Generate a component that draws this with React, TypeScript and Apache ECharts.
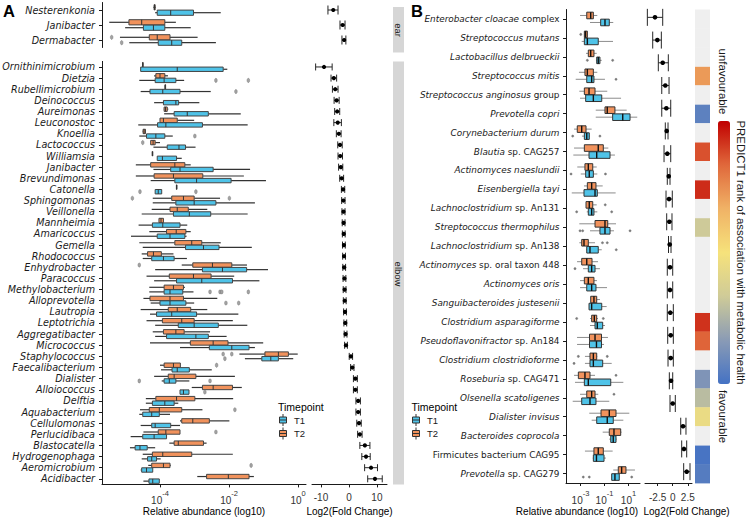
import React, { useEffect, useRef } from 'react';
import * as echarts from 'echarts';

// ---------------- Panel A data ----------------
const earTaxa = ['Nesterenkonia', 'Janibacter', 'Dermabacter'];
const elbowTaxa = [
  'Ornithinimicrobium', 'Dietzia', 'Rubellimicrobium', 'Deinococcus', 'Aureimonas', 'Leuconostoc',
  'Knoellia', 'Lactococcus', 'Williamsia', 'Janibacter', 'Brevundimonas', 'Catonella', 'Sphingomonas',
  'Veillonella', 'Mannheimia', 'Amaricoccus', 'Gemella', 'Rhodococcus', 'Enhydrobacter', 'Paracoccus',
  'Methylobacterium', 'Alloprevotella', 'Lautropia', 'Leptotrichia', 'Aggregatibacter', 'Micrococcus',
  'Staphylococcus', 'Faecalibacterium', 'Dialister', 'Alloiococcus', 'Delftia', 'Aquabacterium',
  'Cellulomonas', 'Perlucidibaca', 'Blastocatella', 'Hydrogenophaga', 'Aeromicrobium', 'Acidibacter',
];
// boxplot stats: [min, q1, median, q3, max] of log10(relative abundance)
const earT1 = [
  [-4.14, -4.08, -3.69, -3.03, -2.24],
  [-5.01, -4.48, -4.19, -3.86, -3.11],
  [-4.89, -4.05, -3.66, -3.37, -2.38],
];
const earT2 = [
  [-4.19, -4.17, -4.16, -4.14, -4.12],
  [-5.47, -4.9, -4.53, -3.86, -3.54],
  [-5.16, -4.31, -4.08, -3.71, -2.91],
];
const earOutT1 = [[2, -5.11]];
const earOutT2 = [[2, -5.4]];
const elbowT1 = [
  [-4.56, -4.56, -3.5, -2.17, -2.05], [-4.6, -4.14, -3.88, -3.54, -3.3], [-4.56, -4.29, -3.92, -3.42, -2.53],
  [-4.17, -3.9, -3.54, -3.46, -2.86], [-3.88, -3.59, -3.21, -2.6, -1.66], [-4.63, -4.07, -3.83, -2.77, -1.46],
  [-4.6, -4.39, -4.12, -3.86, -3.63], [-4.19, -3.79, -3.45, -3.26, -2.97], [-4.08, -4.08, -3.93, -3.52, -3.37],
  [-4.19, -3.69, -3.42, -2.46, -1.39], [-4.27, -3.57, -2.94, -1.94, -0.93], [-4.14, -4.14, -4.05, -3.95, -3.95],
  [-4.21, -3.54, -3.01, -2.38, -1.25], [-4.53, -3.61, -3.15, -2.53, -1.46], [-4.62, -4.22, -3.92, -3.42, -3.21],
  [-4.84, -4.08, -3.71, -3.28, -3.23], [-4.5, -3.26, -2.74, -2.29, -1.34], [-4.5, -4.24, -3.9, -3.59, -3.22],
  [-4.14, -2.77, -2.19, -1.49, -0.87], [-4.17, -3.52, -2.79, -1.9, -1.12], [-4.31, -3.88, -3.71, -3.34, -3.03],
  [-4.27, -4.0, -3.71, -3.25, -3.01], [-4.29, -4.1, -3.66, -2.94, -1.73], [-4.14, -3.47, -3.01, -2.31, -1.47],
  [-4.14, -3.81, -2.96, -2.6, -2.07], [-3.42, -2.57, -1.92, -1.42, -1.25], [-1.54, -1.05, -0.79, -0.57, -0.14],
  [-3.97, -3.65, -3.5, -3.15, -2.5], [-3.95, -3.88, -3.73, -3.54, -3.15], [-3.42, -3.42, -3.32, -3.16, -3.16],
  [-4.41, -4.22, -3.86, -3.59, -3.47], [-4.6, -4.5, -4.24, -4.02, -3.71], [-4.56, -4.24, -4.14, -3.69, -3.42],
  [-4.85, -4.5, -4.17, -3.81, -3.81], [-4.87, -4.72, -4.58, -4.37, -4.14], [-4.53, -4.36, -4.24, -4.1, -3.98],
  [-4.56, -4.53, -4.39, -4.21, -4.21], [-4.48, -4.32, -4.21, -4.02, -4.02],
];
const elbowT2 = [
  [-4.51, -4.505, -4.5, -4.495, -4.49], [-4.17, -4.12, -4.0, -3.86, -3.77], [-3.86, -3.855, -3.85, -3.845, -3.84],
  null, [-3.89, -3.88, -3.84, -3.79, -3.76], [-4.0, -4.0, -3.9, -3.5, -3.01],
  [-4.5, -4.49, -4.46, -4.42, -4.41], [-4.27, -4.27, -4.2, -4.14, -4.0], [-4.23, -4.225, -4.22, -4.215, -4.21],
  [-4.7, -4.27, -3.57, -3.28, -3.11], [-4.7, -4.17, -3.61, -2.76, -1.57], [-3.53, -3.525, -3.52, -3.515, -3.51],
  [-4.21, -3.66, -3.32, -3.01, -2.26], [-4.24, -3.71, -3.5, -3.18, -2.63], [-4.03, -4.03, -3.97, -3.9, -3.9],
  [-4.31, -3.81, -3.53, -3.25, -3.11], [-4.6, -3.57, -3.08, -2.79, -2.24], [-4.53, -4.36, -4.19, -3.96, -3.61],
  [-3.37, -3.05, -2.48, -1.92, -1.48], [-4.39, -3.73, -3.03, -2.52, -1.85], [-4.31, -3.88, -3.61, -3.32, -3.28],
  [-4.48, -4.29, -3.71, -3.32, -2.34], [-4.56, -3.76, -3.5, -3.11, -2.63], [-4.39, -3.93, -3.37, -3.01, -1.89],
  [-4.21, -3.9, -3.54, -3.3, -2.55], [-4.29, -3.12, -2.46, -2.03, -1.01], [-1.7, -0.96, -0.57, -0.28, -0.01],
  [-4.0, -3.88, -3.61, -3.41, -3.4], [-4.17, -3.76, -3.59, -2.96, -1.83], [-3.08, -2.77, -2.46, -1.9, -1.63],
  [-4.41, -4.12, -3.52, -2.99, -1.88], [-4.58, -4.31, -4.02, -3.37, -2.77], [-3.42, -3.37, -3.05, -2.57, -1.99],
  [-4.48, -4.05, -3.83, -3.42, -3.42], [-3.73, -3.59, -3.47, -2.74, -2.65], [-4.5, -4.22, -3.92, -3.08, -1.89],
  [-4.34, -4.24, -3.9, -3.71, -3.69], [-2.92, -2.65, -2.02, -1.42, -1.28],
];
const elbowOutT1 = [
  [1, -2.38], [1, -1.44], [2, -1.8], [6, -2.99], [11, -4.58], [11, -2.96], [20, -2.55], [20, -2.26], [20, -2.21],
  [20, -1.44], [21, -2.09], [21, -1.72], [26, -2.12], [28, -4.6], [28, -2.55], [29, -2.7],
];
const elbowOutT2 = [
  [7, -4.5], [12, -4.8], [12, -1.99], [18, -4.6], [26, -2.17], [26, -1.92], [27, -2.36], [31, -1.83], [33, -2.38], [36, -1.36],
];
// log2 fold change: [estimate, lower, upper]
const earFC = [[-5.6, -7.5, -3.9], [-2.25, -3.2, -1.4], [-1.7, -2.5, -1.1]];
const elbowFC = [
  [-8.9, -11.9, -6.0], [-5.4, -6.4, -4.4], [-4.9, -5.9, -3.9], [-4.4, -5.3, -3.5], [-4.2, -5.1, -3.3],
  [-4.0, -5.4, -2.7], [-3.6, -4.5, -2.8], [-3.2, -4.0, -2.4], [-3.1, -3.9, -2.3], [-2.9, -3.7, -2.2],
  [-2.6, -3.3, -1.9], [-2.1, -2.7, -1.5], [-2.0, -2.6, -1.4], [-1.95, -2.5, -1.4], [-1.9, -2.4, -1.4],
  [-1.85, -2.35, -1.35], [-1.8, -2.3, -1.3], [-1.75, -2.25, -1.25], [-1.7, -2.2, -1.2], [-1.6, -2.1, -1.1],
  [-1.55, -2.05, -1.05], [-1.5, -2.0, -1.0], [-1.4, -1.9, -0.9], [-1.3, -1.8, -0.8], [-1.2, -1.7, -0.7],
  [-1.05, -1.55, -0.55], [0.7, 0.1, 1.3], [1.2, 0.6, 1.8], [2.3, 1.6, 3.0], [2.3, 1.6, 3.0],
  [3.3, 2.5, 4.1], [3.3, 2.5, 4.1], [3.6, 2.8, 4.4], [3.9, 3.1, 4.7], [5.7, 3.9, 7.5],
  [6.1, 4.6, 7.6], [7.9, 5.6, 10.2], [9.3, 6.7, 11.9],
];

// ---------------- Panel B data ----------------
const speciesB = [
  'Enterobacter cloacae complex', 'Streptococcus mutans', 'Lactobacillus delbrueckii', 'Streptococcus mitis',
  'Streptococcus anginosus group', 'Prevotella copri', 'Corynebacterium durum', 'Blautia sp. CAG257',
  'Actinomyces naeslundii', 'Eisenbergiella tayi', 'Lachnoclostridium sp. An131', 'Streptococcus thermophilus',
  'Lachnoclostridium sp. An138', 'Actinomyces sp. oral taxon 448', 'Actinomyces oris', 'Sanguibacteroides justesenii',
  'Clostridium asparagiforme', 'Pseudoflavonifractor sp. An184', 'Clostridium clostridioforme', 'Roseburia sp. CAG471',
  'Olsenella scatoligenes', 'Dialister invisus', 'Bacteroides coprocola', 'Firmicutes bacterium CAG95',
  'Prevotella sp. CAG279',
];
const bT1 = [
  [-2.21, -1.32, -0.96, -0.6, -0.27], [-2.9, -2.68, -2.43, -1.52, -0.29], [-1.71, -1.65, -1.52, -1.38, -1.23],
  [-3.4, -2.48, -2.07, -1.88, -0.96], [-3.04, -2.57, -1.93, -1.23, 0.38], [-1.73, -0.32, 0.52, 1.13, 1.73],
  [-2.88, -2.68, -2.48, -2.27, -2.21], [-3.6, -2.29, -1.65, -0.54, -0.13], [-2.98, -2.57, -2.27, -1.93, -1.6],
  [-3.73, -2.71, -1.79, -1.6, -0.07], [-2.48, -2.35, -2.07, -1.88, -1.6], [-2.21, -1.38, -0.96, -0.54, -0.21],
  [-2.54, -2.48, -2.21, -1.52, -1.23], [-2.79, -2.35, -2.07, -1.79, -1.38], [-3.04, -2.48, -2.07, -1.71, -0.79],
  [-2.29, -2.29, -2.07, -1.23, -0.82], [-2.21, -1.79, -1.6, -1.15, -0.96], [-3.29, -2.25, -1.67, -1.25, -1.04],
  [-2.63, -2.21, -1.93, -1.15, -0.4], [-3.46, -2.68, -2.35, -0.48, 0.57], [-3.65, -2.9, -2.21, -1.71, -0.6],
  [-2.07, -1.65, -0.77, -0.27, 0.57], [-0.6, -0.48, -0.27, -0.04, 0.02], [-1.98, -1.93, -1.67, -1.04, -0.88],
  [-0.4, -0.4, -0.13, 0.23, 0.29],
];
const bT2 = [
  [-3.04, -2.48, -2.15, -1.93, -1.6], [-2.68, -2.68, -2.58, -2.43, -2.43], [-2.54, -2.35, -2.15, -1.88, -1.65],
  [-3.13, -2.63, -2.43, -1.93, -1.6], [-3.1, -2.68, -2.29, -1.79, -0.77], [-1.73, -0.96, -0.77, -0.13, 0.85],
  [-3.54, -3.27, -2.9, -2.54, -2.07], [-3.54, -2.68, -1.52, -1.1, -0.68], [-3.27, -2.63, -2.35, -1.98, -1.65],
  [-2.71, -2.43, -2.07, -1.71, -1.15], [-2.54, -2.54, -2.27, -1.98, -1.65], [-3.1, -1.79, -0.96, -0.73, -0.04],
  [-3.1, -2.9, -2.71, -2.35, -1.79], [-3.29, -2.9, -2.48, -2.04, -1.54], [-3.04, -2.68, -2.35, -1.88, -1.63],
  [-2.15, -2.15, -1.88, -1.65, -1.38], [-2.21, -2.07, -1.85, -1.65, -1.54], [-3.29, -2.25, -1.79, -1.25, -0.71],
  [-2.63, -2.21, -1.93, -1.65, -1.6], [-3.54, -3.18, -2.63, -2.21, -1.79], [-3.04, -2.48, -2.07, -1.79, -1.52],
  [-2.27, -1.29, -0.6, -0.04, 1.07], [-1.15, -0.6, -0.21, 0.35, 0.43], [-2.63, -1.88, -1.52, -1.1, -0.32],
  [-0.27, 0.15, 0.43, 0.79, 1.54],
];
const bOutT1 = [
  [2, -2.43], [2, -0.32], [3, -0.04], [6, -3.65], [6, -1.38], [8, -3.79], [8, -0.92], [10, -3.32], [10, -0.4],
  [11, -3.04], [11, -2.82], [11, 1.13], [12, -0.02], [13, -3.46], [18, -3.54], [24, -2.77], [24, -2.27], [24, 1.27],
];
const bOutT2 = [
  [1, -2.98], [10, -0.94], [12, -1.17], [12, -0.77], [16, -3.32], [16, -1.1], [18, -3.18], [18, -0.77], [19, -0.04], [20, -0.21],
];
const fcBTaxa = [
  'Enterobacter cloacae complex', 'Streptococcus mutans', 'Lactobacillus delbrueckii', 'Streptococcus mitis',
  'Streptococcus anginosus group', 'Prevotella copri', 'Blautia sp. CAG257', 'Actinomyces naeslundii',
  'Eisenbergiella tayi', 'Lachnoclostridium sp. An131', 'Streptococcus thermophilus', 'Actinomyces sp. oral taxon 448',
  'Actinomyces oris', 'Sanguibacteroides justesenii', 'Pseudoflavonifractor sp. An184', 'Clostridium clostridioforme',
  'Roseburia sp. CAG471', 'Olsenella scatoligenes', 'Dialister invisus', 'Bacteroides coprocola', 'Prevotella sp. CAG279',
];
const fcB = [
  [-2.94, -4.21, -1.66], [-2.55, -3.32, -1.89], [-1.66, -2.39, -0.73], [-1.23, -1.82, -0.61], [-1.06, -1.82, -0.33],
  [-1.0, -1.23, -0.78], [-0.9, -1.44, -0.33], [-0.66, -0.9, -0.45], [-0.61, -1.11, -0.07], [-0.56, -1.0, -0.12],
  [-0.5, -0.7, -0.28], [-0.45, -0.9, 0.0], [-0.45, -0.9, 0.0], [-0.4, -0.9, 0.1], [-0.33, -0.83, 0.1],
  [-0.33, -0.78, 0.1], [-0.28, -0.56, 0.0], [0.0, -0.45, 0.43], [1.71, 1.33, 2.2], [1.87, 1.49, 2.32], [2.32, 1.82, 2.87],
];
// PREDICT1 rank (0 = favourable, 1 = unfavourable); null = not ranked
const predictRank = [
  null, null, null, 0.72, null, 0.06, null, 0.87, null, 0.93, null, 0.33, null,
  null, null, null, 0.92, 0.84, null, 0.14, 0.28, 0.45, null, 0.01, 0.04,
];
const rankColors = ['#4472C4', '#8A9BB5', '#CFCB98', '#F6E27B', '#F0B266', '#E0683B', '#C00000'];

const aTicks = [-4, -2, 0];
const fcATicks = [-10, 0, 10];
const bTicks = [-3, -1, 1];
const fcBTicks = [-2.5, 0, 2.5];

// ---------------- styles ----------------
const SANS = "'Liberation Sans', Arial, sans-serif";
const DEJAVU = "'DejaVu Sans', sans-serif";
const T1_COLOR = '#4FC3E8';
const T2_COLOR = '#F1925C';
const AXIS_COLOR = '#1a1a1a';

function boxSeries(axis: number, stats: any[], color: string, offset: number, h: number, st: any) {
  const data: any[] = [];
  stats.forEach((s, i) => { if (s) data.push([i, ...s]); });
  return {
    type: 'custom', xAxisIndex: axis, yAxisIndex: axis, data, z: 3,
    encode: { x: [1, 2, 3, 4, 5], y: 0 },
    renderItem: (params: any, api: any) => {
      const c = api.value(0);
      const p = [1, 2, 3, 4, 5].map((d) => api.coord([api.value(d), c]));
      const y = p[0][1] + offset;
      const t = y - h / 2;
      return {
        type: 'group',
        children: [
          { type: 'line', shape: { x1: p[0][0], y1: y, x2: p[1][0], y2: y }, style: { stroke: st.whisker, lineWidth: st.wlw } },
          { type: 'line', shape: { x1: p[3][0], y1: y, x2: p[4][0], y2: y }, style: { stroke: st.whisker, lineWidth: st.wlw } },
          { type: 'rect', shape: { x: p[1][0], y: t, width: Math.max(p[3][0] - p[1][0], 0.6), height: h }, style: { fill: color, stroke: st.border, lineWidth: st.blw } },
          { type: 'line', shape: { x1: p[2][0], y1: t, x2: p[2][0], y2: t + h }, style: { stroke: st.median, lineWidth: st.mlw } },
        ],
      };
    },
  };
}

function outlierSeries(axis: number, pts: number[][], offset: number, st: any) {
  return {
    type: 'custom', xAxisIndex: axis, yAxisIndex: axis, data: pts, z: 4,
    encode: { x: 1, y: 0 },
    renderItem: (params: any, api: any) => {
      const p = api.coord([api.value(1), api.value(0)]);
      return { type: 'ellipse', shape: { cx: p[0], cy: p[1] + offset, rx: st.rx, ry: st.ry }, style: { fill: st.fill, stroke: st.stroke, lineWidth: 0.5 } };
    },
  };
}

function fcSeries(axis: number, rows: number[][], cap: number, r: number) {
  return {
    type: 'custom', xAxisIndex: axis, yAxisIndex: axis, z: 3,
    data: rows.map((v, i) => [i, ...v]),
    encode: { x: [1, 2, 3], y: 0 },
    renderItem: (params: any, api: any) => {
      const c = api.value(0);
      const pm = api.coord([api.value(1), c]);
      const pl = api.coord([api.value(2), c]);
      const ph = api.coord([api.value(3), c]);
      const y = pm[1];
      const hc = cap / 2;
      const ls = { stroke: '#262626', lineWidth: 1 };
      return {
        type: 'group',
        children: [
          { type: 'line', shape: { x1: pl[0], y1: y, x2: ph[0], y2: y }, style: ls },
          { type: 'line', shape: { x1: pl[0], y1: y - hc, x2: pl[0], y2: y + hc }, style: ls },
          { type: 'line', shape: { x1: ph[0], y1: y - hc, x2: ph[0], y2: y + hc }, style: ls },
          { type: 'circle', shape: { cx: pm[0], cy: y, r }, style: { fill: '#000' } },
        ],
      };
    },
  };
}

const powLabel = (margin: number) => ({
  margin,
  formatter: (v: number) => `{b|10}{s|${Math.round(v)}}`,
  rich: {
    b: { fontSize: 10, fontFamily: SANS, color: '#333', lineHeight: 16, verticalAlign: 'bottom' },
    s: { fontSize: 7.5, fontFamily: SANS, color: '#333', lineHeight: 7, verticalAlign: 'top' },
  },
});

function valueAxis(gi: number, min: number, max: number, ticks: number[] | null, label?: any) {
  if (!ticks) return { type: 'value', gridIndex: gi, min, max, show: false };
  return {
    type: 'value', gridIndex: gi, min, max,
    axisLine: { show: true, onZero: false, lineStyle: { color: AXIS_COLOR, width: 1 } },
    axisTick: { show: true, length: 3, customValues: ticks, lineStyle: { color: AXIS_COLOR, width: 1 } },
    axisLabel: { ...label, customValues: ticks },
    splitLine: { show: false },
  };
}

function catAxis(gi: number, data: string[], label?: any) {
  if (!label) return { type: 'category', gridIndex: gi, data, inverse: true, show: false };
  return {
    type: 'category', gridIndex: gi, data, inverse: true,
    axisLine: { show: true, onZero: false, lineStyle: { color: AXIS_COLOR, width: 1 } },
    axisTick: { show: true, alignWithLabel: true, interval: 0, length: 3, lineStyle: { color: AXIS_COLOR, width: 1 } },
    axisLabel: { interval: 0, ...label },
    splitLine: { show: false },
  };
}

function richB(name: string) {
  if (name.startsWith('Firmicutes')) return `{n|${name}}`;
  const sp = name.indexOf(' sp.');
  if (sp >= 0) return `{i|${name.slice(0, sp)}}{n|${name.slice(sp)}}`;
  for (const suf of [' complex', ' group']) {
    if (name.endsWith(suf)) return `{i|${name.slice(0, name.length - suf.length)}}{n|${suf}}`;
  }
  return `{i|${name}}`;
}

function legendKey(x: number, y: number, color: string) {
  return [
    { type: 'line', shape: { x1: x + 3.5, y1: y - 6, x2: x + 3.5, y2: y + 6 }, style: { stroke: '#333', lineWidth: 1 } },
    { type: 'rect', shape: { x, y: y - 3, width: 7, height: 6 }, style: { fill: color, stroke: '#333', lineWidth: 1 } },
    { type: 'line', shape: { x1: x, y1: y, x2: x + 7, y2: y }, style: { stroke: '#333', lineWidth: 1 } },
  ];
}

function txt(x: number, y: number, text: string, size: number, opts: any = {}) {
  return {
    type: 'text', x, y, rotation: opts.rotation || 0, z: 10,
    style: {
      text, fontSize: size, fontFamily: opts.family || SANS, fontWeight: opts.weight || 'normal',
      fill: opts.fill || '#1a1a1a', textAlign: opts.align || 'center', textVerticalAlign: 'middle',
    },
  };
}

function buildOption() {
  const A_MIN = -5.68, A_MAX = 0.23;
  const FA_MIN = -13.2, FA_MAX = 13.6;
  const B_MIN = -4.21, B_MAX = 1.96;
  const FB_MIN = -4.6, FB_MAX = 3.2;

  const aStyle = { whisker: '#333', wlw: 1.2, border: '#444', blw: 1, median: '#333', mlw: 1 };
  const bStyle = { whisker: '#8c8c8c', wlw: 1, border: '#333', blw: 1, median: '#111', mlw: 1.4 };
  const aOut = { rx: 1.3, ry: 2.1, fill: '#a3a3a3', stroke: '#777' };
  const bOut = { rx: 1.1, ry: 1.1, fill: '#7a7a7a', stroke: '#7a7a7a' };

  const series: any[] = [
    boxSeries(0, earT2, T2_COLOR, -2.7, 5.2, aStyle),
    boxSeries(0, earT1, T1_COLOR, 2.7, 5.2, aStyle),
    outlierSeries(0, earOutT2, -2.7, aOut),
    outlierSeries(0, earOutT1, 2.7, aOut),
    boxSeries(1, elbowT2, T2_COLOR, -2.3, 4.4, aStyle),
    boxSeries(1, elbowT1, T1_COLOR, 2.3, 4.4, aStyle),
    outlierSeries(1, elbowOutT2, -2.3, aOut),
    outlierSeries(1, elbowOutT1, 2.3, aOut),
    fcSeries(2, earFC, 9, 2.1),
    fcSeries(3, elbowFC, 7, 2.1),
    boxSeries(4, bT2, T2_COLOR, -3.5, 6.6, bStyle),
    boxSeries(4, bT1, T1_COLOR, 3.5, 6.6, bStyle),
    outlierSeries(4, bOutT2, -3.5, bOut),
    outlierSeries(4, bOutT1, 3.5, bOut),
    fcSeries(5, fcB, 17, 2.3),
  ];
  const rankedIdx = series.length;
  const cell = (params: any, api: any, fill: string) => {
    const p = api.coord([0, api.value(1)]);
    const s = api.size([1, 1]);
    return { type: 'rect', shape: { x: p[0] - s[0] / 2, y: p[1] - s[1] / 2, width: s[0], height: s[1] + 0.4 }, style: { fill } };
  };
  series.push({
    type: 'custom', xAxisIndex: 6, yAxisIndex: 6,
    data: predictRank.map((v, i) => (v === null ? null : [0, i, v])).filter((d) => d),
    encode: { x: 0, y: 1 },
    renderItem: (params: any, api: any) => cell(params, api, api.visual('color')),
  });
  series.push({
    type: 'custom', xAxisIndex: 6, yAxisIndex: 6,
    data: predictRank.map((v, i) => (v === null ? [0, i, 0] : null)).filter((d) => d),
    encode: { x: 0, y: 1 },
    renderItem: (params: any, api: any) => cell(params, api, '#EFEFEF'),
  });

  const grids = [
    { left: 102, top: 2.5, width: 204, height: 45 },
    { left: 102, top: 61.4, width: 204, height: 423 },
    { left: 312, top: 2.5, width: 75, height: 45 },
    { left: 312, top: 61.4, width: 75, height: 423 },
    { left: 566, top: 9.5, width: 74, height: 473.5 },
    { left: 645, top: 6, width: 47, height: 477 },
    { left: 695, top: 9.5, width: 15, height: 473.5 },
  ].map((g) => ({ ...g, containLabel: false, outerBoundsMode: 'none' }));

  const speciesLabelA = { fontSize: 9.6, fontFamily: DEJAVU, fontStyle: 'italic', color: '#1a1a1a', margin: 7 };
  const speciesLabelB = {
    margin: 6.5,
    formatter: (v: string) => richB(v),
    rich: {
      i: { fontSize: 8.9, fontFamily: DEJAVU, fontStyle: 'italic', color: '#1a1a1a' },
      n: { fontSize: 8.9, fontFamily: DEJAVU, fontStyle: 'normal', color: '#1a1a1a' },
    },
  };
  const plainLabel = (margin: number) => ({
    margin, fontSize: 10, fontFamily: SANS, color: '#333',
    formatter: (v: number) => (v === 0 ? '0' : String(v)),
  });

  const xAxis = [
    valueAxis(0, A_MIN, A_MAX, null),
    valueAxis(1, A_MIN, A_MAX, aTicks, powLabel(5.5)),
    valueAxis(2, FA_MIN, FA_MAX, null),
    valueAxis(3, FA_MIN, FA_MAX, fcATicks, plainLabel(8)),
    valueAxis(4, B_MIN, B_MAX, bTicks, powLabel(6.5)),
    valueAxis(5, FB_MIN, FB_MAX, fcBTicks, plainLabel(9)),
    { type: 'category', gridIndex: 6, data: ['PREDICT1'], show: false },
  ];
  const yAxis = [
    catAxis(0, earTaxa, speciesLabelA),
    catAxis(1, elbowTaxa, speciesLabelA),
    catAxis(2, earTaxa),
    catAxis(3, elbowTaxa),
    catAxis(4, speciesB, speciesLabelB),
    catAxis(5, fcBTaxa),
    catAxis(6, speciesB),
  ];

  const graphic: any[] = [
    txt(3, 11, 'A', 16.5, { align: 'left', weight: 'bold', fill: '#000' }),
    txt(411, 11, 'B', 16.5, { align: 'left', weight: 'bold', fill: '#000' }),
    { type: 'rect', shape: { x: 393, y: 7, width: 11, height: 45.5 }, style: { fill: '#D6D6D6' } },
    { type: 'rect', shape: { x: 393, y: 61.5, width: 11, height: 423 }, style: { fill: '#D6D6D6' } },
    txt(398.5, 30, 'ear', 9.5, { rotation: -Math.PI / 2 }),
    txt(398.5, 274, 'elbow', 9.5, { rotation: -Math.PI / 2 }),
    txt(204, 511.5, 'Relative abundance (log10)', 10, { fill: '#000' }),
    txt(349.5, 511.5, 'Log2(Fold Change)', 10, { fill: '#000' }),
    txt(577, 511.5, 'Relative abundance (log10)', 10, { fill: '#000' }),
    txt(643.5, 511.5, 'Log2(Fold Change)', 10, { fill: '#000', align: 'left' }),
    txt(278, 407, 'Timepoint', 10.5, { align: 'left', fill: '#000' }),
    ...legendKey(279.5, 420, T1_COLOR),
    ...legendKey(279.5, 433.5, T2_COLOR),
    txt(294, 420, 'T1', 9.5, { align: 'left' }),
    txt(294, 433.5, 'T2', 9.5, { align: 'left' }),
    txt(411.5, 407, 'Timepoint', 10.5, { align: 'left', fill: '#000' }),
    ...legendKey(412.5, 420, T1_COLOR),
    ...legendKey(412.5, 433.5, T2_COLOR),
    txt(427, 420, 'T1', 9.5, { align: 'left' }),
    txt(427, 433.5, 'T2', 9.5, { align: 'left' }),
    txt(722.5, 81.5, 'unfavourable', 11.4, { rotation: -Math.PI / 2 }),
    txt(722.5, 416.5, 'favourable', 11.4, { rotation: -Math.PI / 2 }),
    txt(740.5, 252.5, 'PREDICT1 rank of association with metabolic health', 11.4, { rotation: -Math.PI / 2 }),
  ];

  return {
    animation: false,
    backgroundColor: '#fff',
    textStyle: { fontFamily: SANS },
    grid: grids,
    xAxis,
    yAxis,
    series,
    visualMap: [{
      type: 'continuous', min: 0, max: 1, dimension: 2, seriesIndex: [rankedIdx],
      orient: 'vertical', left: 718, top: 121, itemWidth: 12, itemHeight: 263,
      calculable: false, hoverLink: false, padding: 0, text: null,
      inRange: { color: rankColors },
    }],
    graphic,
  };
}

export default function App() {
  const ref = useRef<HTMLDivElement>(null);
  useEffect(() => {
    const chart = echarts.init(ref.current as HTMLDivElement, null, { renderer: 'svg' });
    chart.setOption(buildOption() as any);
    return () => chart.dispose();
  }, []);
  return (
    <div
      ref={ref}
      style={{ position: 'fixed', left: 0, top: 0, width: 746, height: 520, background: '#fff' }}
    />
  );
}
